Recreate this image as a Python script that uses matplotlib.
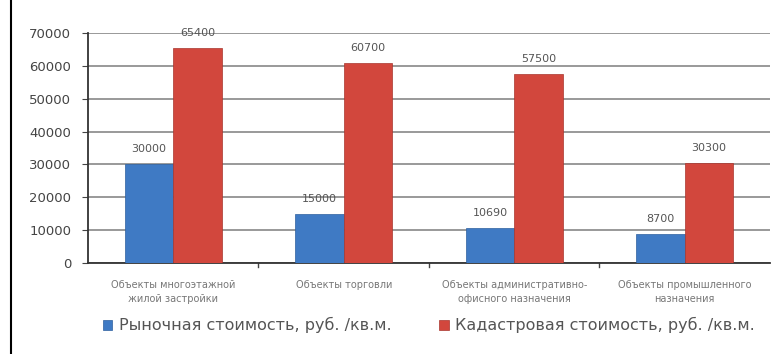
import matplotlib.pyplot as plt
import numpy as np
from matplotlib.lines import Line2D

categories = ['Объекты многоэтажной\nжилой застройки', 'Объекты торговли',
              'Объекты административно-\nофисного назначения', 'Объекты промышленного\nназначения']
market = [30000, 15000, 10690, 8700]
cadastral = [65400, 60700, 57500, 30300]
market_labels = ['30000', '15000', '10690', '8700']
cadastral_labels = ['65400', '60700', '57500', '30300']
series_names = ['Рыночная стоимость, руб. /кв.м.', 'Кадастровая стоимость, руб. /кв.м.']

fig = plt.figure(figsize=(7.75, 3.54), dpi=100)
ax = fig.add_axes([0.1135, 0.257, 0.88, 0.65])

ind = np.arange(len(categories))
width = 0.285
blue = '#3f7ac4'
red = '#d2473d'
b1 = ax.bar(ind - width / 2, market, width, color=blue, edgecolor='#2d5f9e', linewidth=0.5,
            label=series_names[0], zorder=3)
b2 = ax.bar(ind + width / 2, cadastral, width, color=red, edgecolor='#a8352d', linewidth=0.5,
            label=series_names[1], zorder=3)

# labels sit ~15px above bar tops
for rects, labels in ((b1, market_labels), (b2, cadastral_labels)):
    for rect, lab in zip(rects, labels):
        ax.text(rect.get_x() + rect.get_width() / 2, rect.get_height() + 4600, lab,
                ha='center', va='center', fontsize=8, color='#555555', clip_on=False)

ax.set_xlim(-0.5, len(categories) - 0.5)
ax.set_ylim(0, 70000)
ax.set_yticks(np.arange(0, 70001, 10000))
ax.tick_params(axis='y', labelsize=9.5, colors='#444444', length=4, direction='out', pad=8)
ax.yaxis.grid(True, color='#888888', linewidth=1.2, zorder=0)

ax.set_xticks(ind)
ax.set_xticklabels(categories, fontsize=7, color='#777777', linespacing=1.5)
ax.tick_params(axis='x', length=0, pad=12)
for x in np.arange(0.5, len(categories) - 0.5, 1):
    ax.plot([x, x], [0, -1200], color='#444444', linewidth=1, clip_on=False)

for side in ['top', 'right']:
    ax.spines[side].set_visible(False)
ax.spines['left'].set_color('#333333')
ax.spines['left'].set_linewidth(1.3)
ax.spines['bottom'].set_color('#333333')
ax.spines['bottom'].set_linewidth(1.3)

ax.legend(loc='center', bbox_to_anchor=(0.5, -0.27), ncol=2, frameon=False,
          fontsize=11.5, handlelength=0.6, handleheight=0.6, handletextpad=0.4,
          columnspacing=3.0, labelcolor='#555555')

fig.add_artist(Line2D([11 / 775, 11 / 775], [0, 1], color='black', linewidth=1.5))

plt.savefig('out.png')
